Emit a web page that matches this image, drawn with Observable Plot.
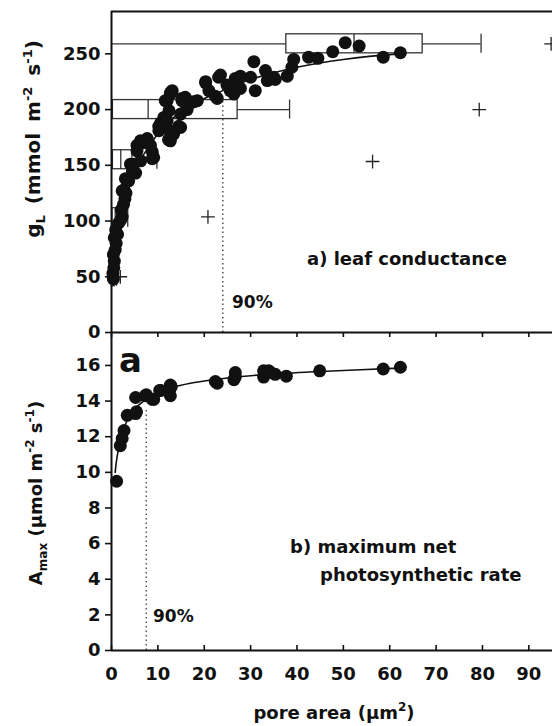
<!DOCTYPE html>
<html><head><meta charset="utf-8">
<script src="https://cdn.jsdelivr.net/npm/d3@7"></script>
<script src="https://cdn.jsdelivr.net/npm/@observablehq/plot@0.6"></script>
<style>
body{margin:0;background:#fff;}
#chart{position:relative;width:552px;height:726px;overflow:hidden;background:#fff;}
#chart svg{position:absolute;left:0;overflow:visible;}
</style></head><body><div id="chart"></div>
<script>
// ---- panel a: leaf conductance vs pore area ----
const gX = [0.4,0.3,0.5,0.6,0.4,0.8,1.0,0.6,1.3,0.9,1.5,2.0,2.3,2.1,2.6,2.9,3.1,2.7,2.3,3.0,
  3.7,4.1,4.5,5.2,4.8,6.3,5.5,6.6,7.7,8.8,9.1,8.4,8.8,6.25,5.5,10.2,10.6,11.3,12.0,12.4,12.0,12.7,13.1,12.7,12.0,13.4,14.9,14.9,15.2,15.9,16.3,17.0,18.5,
  12.7,11.6,15.2,17.7,14.5,16.3,10.2,12.3,
  20.3,21.0,22.8,23.1,24.9,25.6,26.7,27.1,26.4,27.8,27.8,30.0,30.7,31.0,33.2,33.6,35.0,35.3,37.9,38.9,39.3,42.5,44.5,47.7,50.4,53.4,58.6,62.3,
  22.4,23.5,25.6,20.3];
const gY = [48,53,58,64,70,74,80,85,88,92,98,101,104,110,115,120,125,128,127,138,
  136,151,145,143,151,154,163,170,174,162,157,168,156,172,168,181,188,193,190,199,208,214,217,172,183,178,184,196,208,211,202,206,208,
  215,208,210,207,185,200,185,173,
  224,217,210,229,222,217,228,222,214,230,219,229,243,217,235,226,229,227,230,238,245,247,246,252,260,257,247,251,
  212,231,220,225];
const gFitX = [0.3,0.6,1,1.5,2,3,4,5,7,10,14,18,24,30,40,50,62];
const gFitY = [52,72,88,100,110,125,136,145,160,178,195,206,217,227,238,245,250];
// horizontal box plots of pore area at conductance levels
const boxLevel = [259, 200, 155, 103, 50];
const boxLo    = [0, 0, 0, 0, 0];
const boxQ1    = [37.7, 0.3, 0.3, 0.2, 0.1];
const boxMed   = [52.3, 7.9, 2.0, 0.8, 0.4];
const boxQ3    = [67.1, 27.2, 4.5, 1.6, 0.7];
const boxHi    = [79.7, 38.4, 9.8, 3.5, 1.1];
const outX = [94.8, 79.3, 56.3, 20.8, 1.9];
const outY = [259, 200, 153.4, 103.7, 50];
const g90 = {x: 24, top: 207};

// ---- panel b: Amax vs pore area ----
const aX = [1.1,1.9,2.3,2.7,3.4,5.2,5.4,5.2,7.3,7.5,9.1,8.8,10.6,10.4,12.7,12.7,12.9,22.8,22.4,26.7,26.7,26.4,32.8,32.8,33.9,34.3,35.3,37.7,44.9,58.6,62.3];
const aY = [9.5,11.5,11.9,12.35,13.2,13.3,13.4,14.2,14.3,14.35,14.1,14.1,14.6,14.6,14.3,14.9,14.8,15.0,15.1,15.35,15.6,15.2,15.35,15.7,15.7,15.6,15.5,15.4,15.7,15.8,15.9];
const aFitX = [0.8,1,1.5,2,3,4,5,6,8,10,13,17,22,28,35,45,62];
const aFitY = [10.0,10.5,11.3,11.9,12.7,13.2,13.55,13.8,14.2,14.45,14.75,15.0,15.2,15.38,15.52,15.66,15.85];
const a90 = {x: 7.5, top: 13.6};

const xTicks = [0,10,20,30,40,50,60,70,80,90];
const gTicks = [0,50,100,150,200,250];
const aTicks = [0,2,4,6,8,10,12,14,16];

const FONT = "DejaVu Sans";
const W = 552;
const xDomain = [0, 95.1];
const boxes = boxLevel.map((y, i) => ({y, lo: boxLo[i], q1: boxQ1[i], med: boxMed[i], q3: boxQ3[i], hi: boxHi[i]}));
const outliers = outX.map((x, i) => ({x, y: outY[i]}));
const gPts = gX.map((x, i) => ({x, y: gY[i]}));
const aPts = aX.map((x, i) => ({x, y: aY[i]}));
const gFit = gFitX.map((x, i) => ({x, y: gFitY[i]}));
const aFit = aFitX.map((x, i) => ({x, y: aFitY[i]}));
const style = {fontFamily: FONT, fontWeight: "bold", fontSize: "18px", color: "#111", background: "none", overflow: "visible"};
const boxStroke = "#333";
const H = 9.5;

const bottom = Plot.plot({
  width: W, height: 394,
  marginLeft: 111, marginRight: 0, marginTop: 0, marginBottom: 76,
  x: {domain: xDomain},
  y: {domain: [0, 17.85]},
  style,
  marks: [
    Plot.axisY(aTicks, {anchor: "left", tickSize: 6, tickPadding: 5, fontSize: 18, fontWeight: "bold", label: null, strokeWidth: 1.6}),
    Plot.axisX(xTicks, {anchor: "bottom", tickSize: -5, fill: "none", label: null, strokeWidth: 1.6}),
    Plot.axisX(xTicks, {anchor: "bottom", tickSize: 0, tickPadding: 17, stroke: "none", fontSize: 18, fontWeight: "bold", label: null}),
    Plot.ruleX([a90.x], {y1: 0, y2: a90.top, stroke: "#555", strokeWidth: 1.5, strokeDasharray: "1.5,3"}),
    Plot.line(aFit, {x: "x", y: "y", curve: "catmull-rom", stroke: "#111", strokeWidth: 1.6}),
    Plot.dot(aPts, {x: "x", y: "y", r: 6.5, fill: "#111"}),
    Plot.ruleX([0], {stroke: "#111", strokeWidth: 2}),
    Plot.ruleY([0], {stroke: "#111", strokeWidth: 2})
  ]
});

const topP = Plot.plot({
  width: W, height: 333,
  marginLeft: 111, marginRight: 0, marginTop: 11, marginBottom: 1,
  x: {domain: xDomain},
  y: {domain: [0, 288]},
  style,
  marks: [
    Plot.axisY(gTicks, {anchor: "left", tickSize: 6, tickPadding: 5, fontSize: 18, fontWeight: "bold", label: null, strokeWidth: 1.6}),
    Plot.axisX(xTicks, {anchor: "bottom", tickSize: 5, fill: "none", label: null, strokeWidth: 1.6}),
    Plot.ruleX([g90.x], {y1: 0, y2: g90.top, stroke: "#555", strokeWidth: 1.5, strokeDasharray: "1.5,3"}),
    // whiskers
    Plot.ruleY(boxes, {y: "y", x1: "lo", x2: "q1", stroke: boxStroke, strokeWidth: 1.3}),
    Plot.ruleY(boxes, {y: "y", x1: "q3", x2: "hi", stroke: boxStroke, strokeWidth: 1.3}),
    Plot.ruleX(boxes, {x: "hi", y1: "y", y2: "y", insetTop: -H, insetBottom: -H, stroke: boxStroke, strokeWidth: 1.3}),
    Plot.rect(boxes, {x1: "q1", x2: "q3", y1: "y", y2: "y", insetTop: -H, insetBottom: -H, fill: "none", stroke: boxStroke, strokeWidth: 1.3}),
    Plot.ruleX(boxes, {x: "med", y1: "y", y2: "y", insetTop: -H, insetBottom: -H, stroke: boxStroke, strokeWidth: 1.3}),
    Plot.dot(outliers, {x: "x", y: "y", symbol: "plus", r: 4.5, stroke: "#222", strokeWidth: 1.3}),
    Plot.line(gFit, {x: "x", y: "y", curve: "catmull-rom", stroke: "#111", strokeWidth: 1.6}),
    Plot.dot(gPts, {x: "x", y: "y", r: 6.5, fill: "#111"}),
    Plot.ruleX([0], {stroke: "#111", strokeWidth: 2}),
    Plot.ruleY([0], {stroke: "#111", strokeWidth: 2}),
    Plot.ruleY([288], {stroke: "#111", strokeWidth: 2})
  ]
});

const chart = document.getElementById("chart");
bottom.style.top = "332px";
topP.style.top = "0px";
chart.appendChild(bottom);
chart.appendChild(topP);

function txt(svg, x, y, s, size, anchor = "start") {
  return d3.select(svg).append("text").attr("x", x).attr("y", y)
    .attr("font-family", FONT).attr("font-weight", "bold").attr("font-size", size)
    .attr("text-anchor", anchor).attr("fill", "#111").text(s);
}
// top panel annotations
txt(topP, 307, 265, "a) leaf conductance", 18);
txt(topP, 232, 308, "90%", 17);
{
  const t = d3.select(topP).append("text")
    .attr("transform", "translate(40,139) rotate(-90)")
    .attr("font-family", FONT).attr("font-weight", "bold").attr("font-size", 20)
    .attr("text-anchor", "middle").attr("fill", "#111").attr("word-spacing", 4);
  t.append("tspan").text("g");
  t.append("tspan").attr("font-size", 13).attr("dy", 5).text("L");
  t.append("tspan").attr("dy", -5).text(" (mmol m");
  t.append("tspan").attr("font-size", 13).attr("dy", -8).text("-2");
  t.append("tspan").attr("dy", 8).text(" s");
  t.append("tspan").attr("font-size", 13).attr("dy", -8).text("-1");
  t.append("tspan").attr("dy", 8).text(")");
}
// bottom panel annotations
txt(bottom, 119, 40, "a", 34);
txt(bottom, 290, 221, "b) maximum net", 18);
txt(bottom, 320, 249, "photosynthetic rate", 18);
txt(bottom, 153, 290, "90%", 17);
{
  const t = d3.select(bottom).append("text")
    .attr("transform", "translate(42,161) rotate(-90)")
    .attr("font-family", FONT).attr("font-weight", "bold").attr("font-size", 18)
    .attr("text-anchor", "middle").attr("fill", "#111");
  t.append("tspan").text("A");
  t.append("tspan").attr("font-size", 12).attr("dy", 5).text("max");
  t.append("tspan").attr("dy", -5).text(" (µmol m");
  t.append("tspan").attr("font-size", 12).attr("dy", -8).text("-2");
  t.append("tspan").attr("dy", 8).text(" s");
  t.append("tspan").attr("font-size", 12).attr("dy", -8).text("-1");
  t.append("tspan").attr("dy", 8).text(")");
}
{
  const t = d3.select(bottom).append("text")
    .attr("x", 334).attr("y", 387)
    .attr("font-family", FONT).attr("font-weight", "bold").attr("font-size", 18)
    .attr("text-anchor", "middle").attr("fill", "#111");
  t.append("tspan").text("pore area (µm");
  t.append("tspan").attr("font-size", 12).attr("dy", -8).text("2");
  t.append("tspan").attr("dy", 8).text(")");
}
</script></body></html>
